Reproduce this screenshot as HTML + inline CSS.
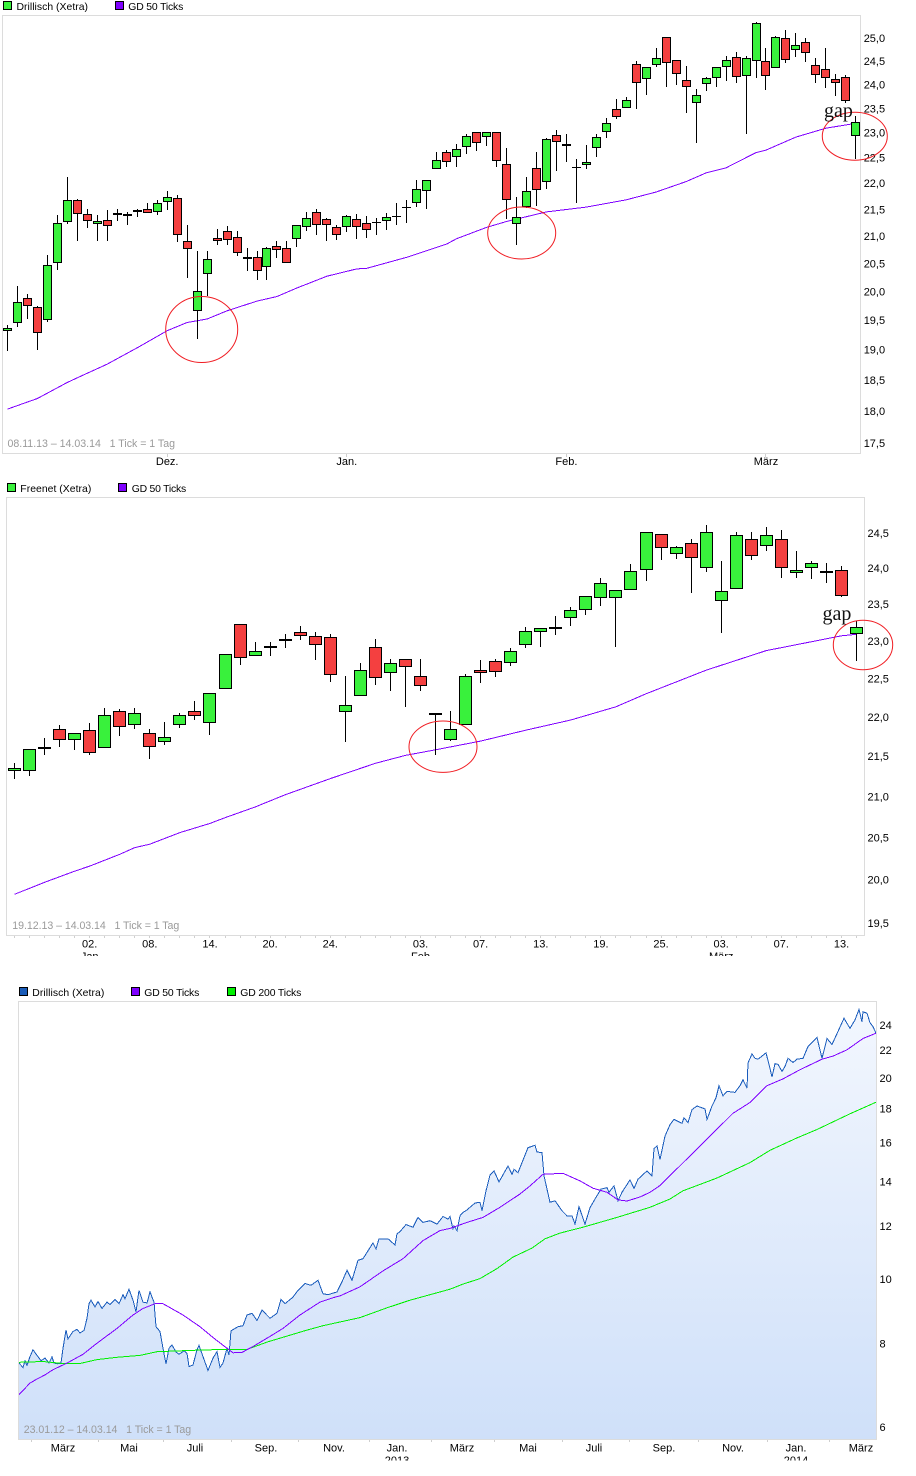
<!DOCTYPE html>
<html lang="de">
<head>
<meta charset="utf-8">
<title>Drillisch und Freenet Charts</title>
<style>
html,body{margin:0;padding:0;background:#fff;width:916px;height:1476px;overflow:hidden}
svg{display:block;font-family:"Liberation Sans",Arial,sans-serif}
text{font-size:11px;fill:#000;white-space:pre}
.leg{font-size:10.4px}
.foot{fill:#9a9a9a;font-size:10.6px}
.gap{font-family:"Liberation Serif",serif;font-size:20px;fill:#111}
polyline{shape-rendering:crispEdges}
</style>
</head>
<body>
<svg id="page" xmlns="http://www.w3.org/2000/svg" width="916" height="1476" viewBox="0 0 916 1476">
  <defs>
    <linearGradient id="areaFill" gradientUnits="userSpaceOnUse" x1="0" y1="1001" x2="0" y2="1440">
      <stop offset="0" stop-color="#f3f7fe"/>
      <stop offset="1" stop-color="#cfe0f9"/>
    </linearGradient>
    <clipPath id="clipAxis2"><rect x="0" y="936" width="916" height="20"/></clipPath>
    <clipPath id="clipAxis3"><rect x="0" y="1440" width="916" height="20.5"/></clipPath>
  </defs>

  <g id="chart1">
    <rect x="3.5" y="1.5" width="8" height="8" fill="#39f13c" stroke="#000"/>
    <text x="16.5" y="10" class="leg" textLength="71.5" lengthAdjust="spacing">Drillisch (Xetra)</text>
    <rect x="115.5" y="1.5" width="8" height="8" fill="#7f00ff" stroke="#000"/>
    <text x="128.3" y="10" class="leg" textLength="55" lengthAdjust="spacing">GD 50 Ticks</text>
    <rect x="2.5" y="15.5" width="858" height="438" fill="#fff" stroke="#dcdcdc"/>
    <g id="c1-ma"></g><g id="c1-candles"></g><g id="c1-axis"></g>
    <text x="7.5" y="447" class="foot" textLength="167.5" lengthAdjust="spacing">08.11.13 – 14.03.14   1 Tick = 1 Tag</text>
    <ellipse cx="201.7" cy="329.5" rx="36" ry="33" fill="none" stroke="#f01c22"/>
    <ellipse cx="521.7" cy="233" rx="34" ry="26" fill="none" stroke="#f01c22"/>
    <ellipse cx="854.8" cy="136.2" rx="32.5" ry="24" fill="none" stroke="#f01c22"/>
    <text x="824" y="117" class="gap">gap</text>
  </g>

  <g id="chart2">
    <rect x="7.5" y="483.5" width="8" height="8" fill="#39f13c" stroke="#000"/>
    <text x="20.3" y="492" class="leg" textLength="71" lengthAdjust="spacing">Freenet (Xetra)</text>
    <rect x="118.5" y="483.5" width="8" height="8" fill="#7f00ff" stroke="#000"/>
    <text x="131.7" y="492" class="leg" textLength="54.5" lengthAdjust="spacing">GD 50 Ticks</text>
    <rect x="6.5" y="497.5" width="858" height="438" fill="#fff" stroke="#dcdcdc"/>
    <g id="c2-ma"></g><g id="c2-candles"></g><g id="c2-axis"></g>
    <text x="12.3" y="929" class="foot" textLength="167" lengthAdjust="spacing">19.12.13 – 14.03.14   1 Tick = 1 Tag</text>
    <ellipse cx="443" cy="746.7" rx="34" ry="25.7" fill="none" stroke="#f01c22"/>
    <ellipse cx="863" cy="645" rx="29.7" ry="24.7" fill="none" stroke="#f01c22"/>
    <text x="822.5" y="620" class="gap">gap</text>
  </g>

  <g id="chart3">
    <rect x="19.5" y="987.5" width="8" height="8" fill="#1a5cb8" stroke="#000"/>
    <text x="32.3" y="996" class="leg" textLength="72" lengthAdjust="spacing">Drillisch (Xetra)</text>
    <rect x="131.5" y="987.5" width="8" height="8" fill="#7f00ff" stroke="#000"/>
    <text x="144.3" y="996" class="leg" textLength="55" lengthAdjust="spacing">GD 50 Ticks</text>
    <rect x="227.5" y="987.5" width="8" height="8" fill="#00f000" stroke="#000"/>
    <text x="240.3" y="996" class="leg" textLength="61" lengthAdjust="spacing">GD 200 Ticks</text>
    <rect x="18.5" y="1001.5" width="858" height="438" fill="#fff" stroke="none"/>
    <g id="c3-series"></g>
    <rect x="18.5" y="1001.5" width="858" height="438" fill="none" stroke="#dcdcdc"/>
    <g id="c3-axis"></g>
    <text x="23.7" y="1433" class="foot" textLength="167.5" lengthAdjust="spacing">23.01.12 – 14.03.14   1 Tick = 1 Tag</text>
  </g>
</svg>

<script>
/* ---------- Chart 1: Drillisch candles ---------- */
var c1Open  = [19.32,19.45,19.88,19.73,19.51,20.50,21.26,21.67,21.41,21.22,
  21.30,21.39,21.41,21.44,21.50,21.44,21.63,21.71,20.90,19.66,
  20.31,20.96,21.09,20.99,20.61,20.61,20.43,20.81,20.78,20.94,
  21.16,21.44,21.31,21.16,21.16,21.31,21.24,21.26,21.28,21.37,
  21.53,21.61,21.84,22.27,22.61,22.51,22.71,23.01,22.91,23.01,
  22.37,21.22,21.54,22.29,22.02,22.95,22.77,22.31,22.35,22.69,
  23.01,23.48,23.50,24.43,24.11,24.41,25.02,24.51,24.09,23.60,
  24.00,24.13,24.38,24.58,24.17,24.49,24.49,24.35,24.99,24.73,
  24.91,24.41,24.32,24.11,24.15,22.93];
var c1High  = [19.42,20.10,19.95,19.75,20.65,21.39,22.12,21.69,21.50,21.39,
  21.49,21.50,21.44,21.50,21.61,21.67,21.84,21.77,21.21,20.73,
  20.73,21.13,21.19,21.09,20.78,20.73,20.79,20.91,20.91,21.20,
  21.44,21.50,21.33,21.20,21.39,21.41,21.37,21.33,21.43,21.61,
  21.67,22.06,22.06,22.61,22.65,22.77,22.97,23.01,23.02,23.01,
  22.69,21.73,22.12,22.61,22.89,23.05,22.97,22.47,22.75,22.97,
  23.29,23.69,23.73,24.50,24.37,24.78,25.02,24.51,24.39,23.90,
  24.15,24.37,24.60,24.69,24.60,25.35,24.78,25.04,25.17,25.10,
  24.99,24.56,24.78,24.22,24.19,23.34];
var c1Low   = [18.98,19.39,19.52,19.00,19.46,20.38,21.23,20.90,21.14,20.90,
  20.90,21.27,21.21,21.36,21.43,21.40,21.49,20.88,20.23,19.18,
  19.91,20.83,20.83,20.64,20.37,20.21,20.21,20.59,20.50,20.80,
  21.10,21.02,20.90,20.93,21.08,20.95,20.97,21.01,21.12,21.21,
  21.25,21.54,21.51,22.27,22.32,22.32,22.57,22.64,22.74,22.32,
  21.32,20.84,21.52,21.57,21.89,22.24,22.41,21.61,22.28,22.51,
  22.89,23.27,23.50,23.49,23.78,24.36,23.95,23.98,23.41,22.80,
  23.85,23.95,24.08,24.03,22.98,24.13,23.89,24.35,24.45,24.58,
  24.47,24.02,23.93,23.76,23.60,22.48];
var c1Close = [19.36,19.81,19.74,19.28,20.47,21.24,21.67,21.41,21.28,21.28,
  21.18,21.43,21.37,21.48,21.43,21.61,21.73,21.01,20.76,20.00,
  20.57,20.90,20.92,20.68,20.57,20.36,20.78,20.74,20.50,21.20,
  21.33,21.20,21.20,21.01,21.37,21.16,21.11,21.26,21.35,21.37,
  21.54,21.88,22.06,22.45,22.41,22.67,22.93,22.79,23.01,22.43,
  21.67,21.35,21.84,21.86,22.87,22.81,22.73,22.31,22.41,22.91,
  23.19,23.32,23.67,24.02,24.37,24.56,24.45,24.22,23.94,23.77,
  24.13,24.37,24.51,24.15,24.56,25.33,24.17,25.02,24.53,24.84,
  24.67,24.19,24.13,24.02,23.65,23.21];
var c1MaIndex  = [0,3,6,8,10,13,16,18,20,22,25,27,29,32,35,36,40,44,45,48,50,54,58,62,65,68,70,72,75,76,79,82,85];
var c1MaValues = [18.03,18.20,18.46,18.61,18.76,19.03,19.32,19.46,19.52,19.66,19.83,19.91,20.06,20.27,20.40,20.41,20.61,20.85,20.95,21.16,21.27,21.45,21.54,21.68,21.83,22.03,22.20,22.30,22.60,22.65,22.91,23.09,23.19];
var c1PriceTicks = [25,24.5,24,23.5,23,22.5,22,21.5,21,20.5,20,19.5,19,18.5,18,17.5];
var c1MonthIndex = [16,34,56,76];
var c1MonthLabels = ['Dez.','Jan.','Feb.','März'];

/* ---------- Chart 2: Freenet candles ---------- */
var c2Open  = [21.31,21.32,21.59,21.84,21.70,21.83,21.60,22.07,21.89,21.79,
  21.68,21.90,22.08,21.92,22.36,23.23,22.80,22.92,23.01,23.12,
  23.06,23.05,22.06,22.27,22.92,22.57,22.76,22.53,22.04,21.71,
  21.90,22.61,22.73,22.71,22.95,23.12,23.18,23.31,23.42,23.58,
  23.58,23.69,23.97,24.48,24.20,24.35,24.00,23.54,23.71,24.41,
  24.31,24.42,23.93,24.00,23.95,23.98,23.09];
var c2High  = [21.42,21.59,21.73,21.89,21.80,21.92,22.11,22.10,22.11,21.84,
  21.93,22.05,22.20,22.31,22.82,23.23,22.99,22.98,23.10,23.20,
  23.12,23.09,22.53,22.70,23.02,22.76,22.76,22.76,22.05,22.08,
  22.56,22.75,22.76,22.90,23.19,23.17,23.34,23.46,23.61,23.87,
  23.69,24.06,24.51,24.48,24.31,24.41,24.61,24.10,24.52,24.51,
  24.58,24.54,24.24,24.10,24.07,24.03,23.27];
var c2Low   = [21.22,21.25,21.51,21.61,21.58,21.51,21.60,21.75,21.84,21.47,
  21.64,21.86,21.96,21.77,22.36,22.68,22.80,22.80,22.91,23.01,
  22.75,22.46,21.68,22.27,22.42,22.34,22.13,22.33,21.51,21.69,
  21.90,22.44,22.52,22.67,22.90,22.92,23.08,23.20,23.35,23.47,
  22.92,23.69,23.82,24.12,24.13,23.65,23.95,23.11,23.71,24.12,
  24.24,23.86,23.87,23.85,23.80,23.60,22.73];
var c2Close = [21.35,21.59,21.62,21.70,21.79,21.54,22.02,21.87,22.05,21.61,
  21.74,22.03,22.01,22.31,22.82,22.77,22.87,22.93,23.02,23.06,
  22.94,22.54,22.16,22.61,22.50,22.70,22.65,22.40,22.05,21.85,
  22.53,22.57,22.58,22.87,23.14,23.17,23.19,23.42,23.61,23.80,
  23.69,23.96,24.51,24.28,24.30,24.15,24.51,23.68,24.47,24.17,
  24.47,24.01,23.98,24.08,23.96,23.61,23.19];
var c2MaIndex  = [0,2,4,5,7,8,9,11,13,14,16,18,21,24,26,28,31,34,37,40,42,46,48,50,52,55,56];
var c2MaValues = [19.83,19.97,20.10,20.16,20.30,20.38,20.42,20.56,20.67,20.74,20.87,21.02,21.22,21.41,21.51,21.58,21.69,21.83,21.96,22.13,22.30,22.61,22.74,22.87,22.95,23.07,23.09];
var c2PriceTicks = [24.5,24,23.5,23,22.5,22,21.5,21,20.5,20,19.5];
var c2DateIndex = [5,9,13,17,21,27,31,35,39,43,47,51,55];
var c2DateLabels = ['02.','08.','14.','20.','24.','03.','07.','13.','19.','25.','03.','07.','13.'];
var c2MonthIndex = [5,27,47];
var c2MonthLabels = ['Jan','Feb','März'];

/* ---------- Chart 3: long-term area ---------- */
var priceDays = [0,4,6,8,11,14,18,22,26,30,
  33,35,39,42,44,47,49,54,58,61,
  65,68,70,72,76,79,83,88,91,96,
  100,104,106,110,114,117,120,124,128,131,
  135,137,141,144,147,150,153,157,160,165,
  168,170,174,178,180,184,189,194,198,201,
  204,208,210,212,219,224,228,233,238,243,
  251,258,262,266,274,279,286,292,299,304,
  309,318,323,328,333,339,344,354,357,360,
  364,369,376,378,381,387,394,399,404,411,
  418,424,429,431,434,435,438,441,444,447,
  456,461,463,467,471,475,480,489,493,495,
  499,503,509,516,518,523,525,531,536,543,
  548,553,556,560,566,571,576,582,588,590,
  595,599,603,611,615,619,628,633,635,638,
  641,646,651,655,663,665,669,673,678,686,
  688,693,697,700,704,708,716,721,724,728,
  729,733,736,739,747,750,753,756,759,763,
  766,769,774,778,784,789,798,803,808,813,
  819,825,831,836,840,843,844,848,851,854,857];
var priceValues = [7.48,7.37,7.54,7.42,7.65,7.83,7.68,7.54,7.61,7.48,
  7.64,7.48,7.46,7.48,7.87,8.38,8.13,8.34,8.40,8.30,
  8.37,8.73,9.18,9.29,9.08,9.25,9.03,9.23,9.15,9.32,
  9.18,9.47,9.34,9.65,9.29,8.93,9.61,9.23,9.20,9.56,
  9.23,8.48,8.34,7.87,7.46,7.87,7.96,7.77,7.71,7.80,
  7.74,7.39,7.43,7.83,7.95,7.65,7.29,7.61,7.78,7.37,
  7.48,7.87,7.69,8.36,8.48,8.51,8.83,8.88,8.66,8.98,
  8.73,8.88,9.32,9.18,9.39,9.61,9.84,9.78,9.95,9.50,
  9.47,9.56,9.90,10.30,9.95,10.66,10.72,11.32,11.09,11.48,
  11.48,11.48,11.24,11.68,11.77,12.06,11.95,12.36,12.15,12.22,
  12.08,12.40,12.29,12.40,11.88,12.01,11.81,12.43,12.58,12.65,
  12.99,13.02,12.65,13.55,14.30,14.51,13.97,14.76,14.34,14.59,
  14.42,14.93,15.72,15.85,15.49,15.45,14.27,13.02,13.09,12.65,
  12.43,12.43,12.08,12.83,12.08,12.78,13.17,13.63,13.70,13.48,
  13.78,13.09,13.48,14.07,13.66,14.10,14.51,14.27,15.67,15.81,
  15.10,16.36,17.02,17.33,17.10,17.43,17.14,17.93,18.15,17.97,
  17.33,18.15,18.67,19.47,18.80,19.09,19.02,19.47,19.87,19.31,
  21.05,21.72,21.40,21.33,21.80,20.95,20.06,21.00,20.95,20.45,
  20.80,21.40,21.09,21.33,21.40,22.28,22.99,21.40,22.91,22.44,
  23.47,24.56,23.73,24.42,25.33,24.27,25.12,25.00,24.19,23.86,23.33];
var gd50Days = [0,11,18,26,34,48,64,78,98,114,124,136,144,164,181,194,208,214,223,234,251,264,281,301,314,321,341,364,384,404,421,431,448,464,481,501,511,524,544,561,574,588,599,608,621,631,641,658,691,714,731,748,764,781,803,814,828,844,857];
var gd50Values = [6.71,6.98,7.08,7.18,7.31,7.48,7.71,8.01,8.43,8.83,9.03,9.18,9.18,8.83,8.48,8.17,7.87,7.75,7.76,7.92,8.20,8.43,8.83,9.23,9.37,9.43,9.73,10.28,10.72,11.41,11.81,11.90,12.15,12.36,12.80,13.40,13.78,14.34,14.39,14.02,13.67,13.48,13.13,13.08,13.26,13.48,13.80,14.62,16.36,17.70,18.37,19.47,19.93,20.57,21.33,21.56,22.03,22.91,23.33];
var gd200Days = [0,24,44,61,78,98,121,138,188,228,248,268,288,304,341,368,391,431,444,461,478,494,513,526,541,564,598,631,651,664,698,731,751,778,798,831,857];
var gd200Values = [7.50,7.52,7.47,7.47,7.57,7.63,7.68,7.78,7.83,7.84,8.04,8.21,8.38,8.51,8.75,9.05,9.29,9.65,9.82,10.01,10.36,10.78,11.12,11.48,11.71,11.95,12.36,12.80,13.17,13.55,14.16,14.93,15.58,16.26,16.74,17.67,18.39];
var c3PriceTicks = [24,22,20,18,16,14,12,10,8,6];
var c3MonthDays = [44,110,176,247,315,378,443,509,575,645,714,777,842];
var c3MonthLabels = ['März','Mai','Juli','Sep.','Nov.','Jan.','März','Mai','Juli','Sep.','Nov.','Jan.','März'];
var c3YearDays = [378,777];
var c3YearLabels = ['2013','2014'];
var c3TickDays = [12,79,144,212,279,350,412,475,543,610,679,748,810];

/* ---------- helpers ---------- */
var NS = 'http://www.w3.org/2000/svg';
function make(tag, parentId, props) {
  var el = document.createElementNS(NS, tag);
  for (var k in props) el.setAttribute(k, props[k]);
  document.getElementById(parentId).appendChild(el);
  return el;
}
function logScale(v0, v1, p0, p1) {
  var k = (p1 - p0) / Math.log(v1 / v0);
  return function (v) { return p0 + k * Math.log(v / v0); };
}
function linScale(d0, d1, p0, p1) {
  return function (d) { return p0 + (d - d0) * (p1 - p0) / (d1 - d0); };
}
function pts(xs, ys, xf, yf) {
  return xs.map(function (d, i) { return xf(d).toFixed(1) + ',' + yf(ys[i]).toFixed(1); }).join(' ');
}
function fmt(v) { return v.toFixed(1).replace('.', ','); }

function drawCandles(gid, xf, yf, halfW, minH, opens, highs, lows, closes) {
  opens.forEach(function (o, i) {
    var c = closes[i];
    var col = Math.floor(xf(i));
    var wick = make('rect', gid, {x: col, y: Math.round(yf(highs[i])), width: 1,
      height: Math.max(1, Math.round(yf(lows[i])) - Math.round(yf(highs[i]))), fill: '#000'});
    
    
    var top = Math.round(yf(Math.max(o, c)));
    var bot = Math.round(yf(Math.min(o, c)));
    var h = bot - top;
    var body;
    if (h < 3) {
      h = Math.max(minH, h);
      body = make('rect', gid, {x: col - halfW, y: top, width: 2 * halfW + 1, height: h, fill: '#000'});
    } else {
      body = make('rect', gid, {x: col - halfW + 0.5, y: top + 0.5, width: 2 * halfW, height: h - 1,
        fill: c >= o ? '#39f13c' : '#f44040', stroke: '#000', 'stroke-width': 1});
    }
    
    
  });
}

/* ---------- chart 1 ---------- */
var x1 = linScale(0, 85, 7.5, 855.8);
var y1 = logScale(25, 17.5, 38, 443);
var ma1 = make('polyline', 'c1-ma', {points: pts(c1MaIndex, c1MaValues, x1, y1), fill: 'none', stroke: '#7f00ff', 'stroke-width': 1});


drawCandles('c1-candles', x1, y1, 4, 1, c1Open, c1High, c1Low, c1Close);
c1PriceTicks.forEach(function (v) {
  var t = make('text', 'c1-axis', {x: 863.7, y: (y1(v) + 4).toFixed(1)});
  t.textContent = fmt(v);
  
  
});
c1MonthIndex.forEach(function (idx, i) {
  var tk = make('rect', 'c1-axis', {x: Math.floor(x1(idx)), y: 454, width: 1, height: 3, fill: '#cfcfcf'});
  
  
  var t = make('text', 'c1-axis', {x: x1(idx).toFixed(1), y: 465, 'text-anchor': 'middle'});
  t.textContent = c1MonthLabels[i];
  
  
});

/* ---------- chart 2 ---------- */
var x2 = linScale(0, 56, 14.5, 856.5);
var y2 = logScale(24.5, 19.5, 533, 923);
var ma2 = make('polyline', 'c2-ma', {points: pts(c2MaIndex, c2MaValues, x2, y2), fill: 'none', stroke: '#7f00ff', 'stroke-width': 1});


drawCandles('c2-candles', x2, y2, 6, 2, c2Open, c2High, c2Low, c2Close);
c2PriceTicks.forEach(function (v) {
  var t = make('text', 'c2-axis', {x: 867.5, y: (y2(v) + 4).toFixed(1)});
  t.textContent = fmt(v);
  
  
});
c2Open.forEach(function (o, i) {
  var tk = make('rect', 'c2-axis', {x: Math.floor(x2(i)), y: 936, width: 1, height: 2, fill: '#cfcfcf'});
  
  
});
c2DateIndex.forEach(function (idx, i) {
  var t = make('text', 'c2-axis', {x: x2(idx).toFixed(1), y: 947.3, 'text-anchor': 'middle'});
  t.textContent = c2DateLabels[i];
  
  
});
c2MonthIndex.forEach(function (idx, i) {
  var t = make('text', 'c2-axis', {x: x2(idx).toFixed(1), y: 960, 'text-anchor': 'middle', 'clip-path': 'url(#clipAxis2)'});
  t.textContent = c2MonthLabels[i];
  
  
});

/* ---------- chart 3 ---------- */
var x3 = linScale(0, 857, 19, 876);
var y3 = logScale(24, 6, 1025, 1427);
var baseY = 1439.5;
var linePts = pts(priceDays, priceValues, x3, y3);
var area = make('polygon', 'c3-series', {points: x3(priceDays[0]) + ',' + baseY + ' ' + linePts + ' ' + x3(priceDays[priceDays.length - 1]) + ',' + baseY, fill: 'url(#areaFill)'});


var priceLine = make('polyline', 'c3-series', {points: linePts, fill: 'none', stroke: '#1a5cbc', 'stroke-width': 1});


var g200 = make('polyline', 'c3-series', {points: pts(gd200Days, gd200Values, x3, y3), fill: 'none', stroke: '#00f000', 'stroke-width': 1});


var g50 = make('polyline', 'c3-series', {points: pts(gd50Days, gd50Values, x3, y3), fill: 'none', stroke: '#7f00ff', 'stroke-width': 1});


c3PriceTicks.forEach(function (v) {
  var t = make('text', 'c3-axis', {x: 879.5, y: (y3(v) + 4).toFixed(1)});
  t.textContent = String(v);
  
  
});
c3TickDays.forEach(function (d) {
  var tk = make('rect', 'c3-axis', {x: Math.floor(x3(d)), y: 1440, width: 1, height: 2, fill: '#cfcfcf'});
  
  
});
c3MonthDays.forEach(function (d, i) {
  var t = make('text', 'c3-axis', {x: x3(d).toFixed(1), y: 1451.5, 'text-anchor': 'middle'});
  t.textContent = c3MonthLabels[i];
  
  
});
c3YearDays.forEach(function (d, i) {
  var t = make('text', 'c3-axis', {x: x3(d).toFixed(1), y: 1464, 'text-anchor': 'middle', 'clip-path': 'url(#clipAxis3)'});
  t.textContent = c3YearLabels[i];
  
  
});
</script>
</body>
</html>
